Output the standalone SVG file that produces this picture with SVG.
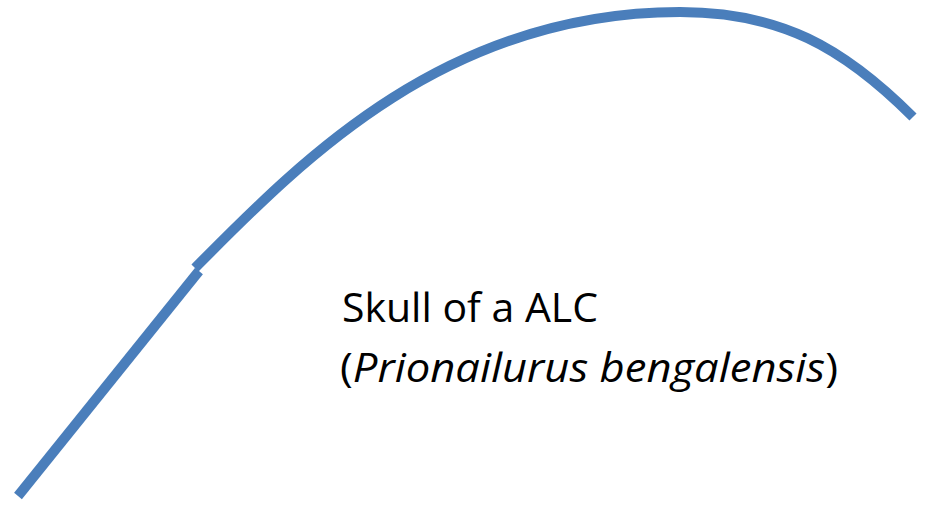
<svg xmlns="http://www.w3.org/2000/svg" width="928" height="505" viewBox="0 0 928 505">
<style>
.ln{fill:none;stroke:#4a7ebb;stroke-width:10;stroke-linecap:butt}
.lbl{font-family:"Open Sans","Noto Sans",sans-serif;font-size:41px;fill:#000}
</style>
<rect width="928" height="505" fill="#fff"/>
<g id="connectors">
<path class="ln" d="M18,496 L199,271"/>
<path class="ln" d="M195,268 C300,162 445,12 680,12 C780,12 843,47 913,117"/>
</g>
<g id="label">
<text class="lbl" x="342" y="322" textLength="256" lengthAdjust="spacingAndGlyphs">Skull of a ALC</text>
<text class="lbl" x="340" y="382" textLength="498" lengthAdjust="spacingAndGlyphs">(<tspan font-style="italic">Prionailurus bengalensis</tspan>)</text>
</g>
</svg>
